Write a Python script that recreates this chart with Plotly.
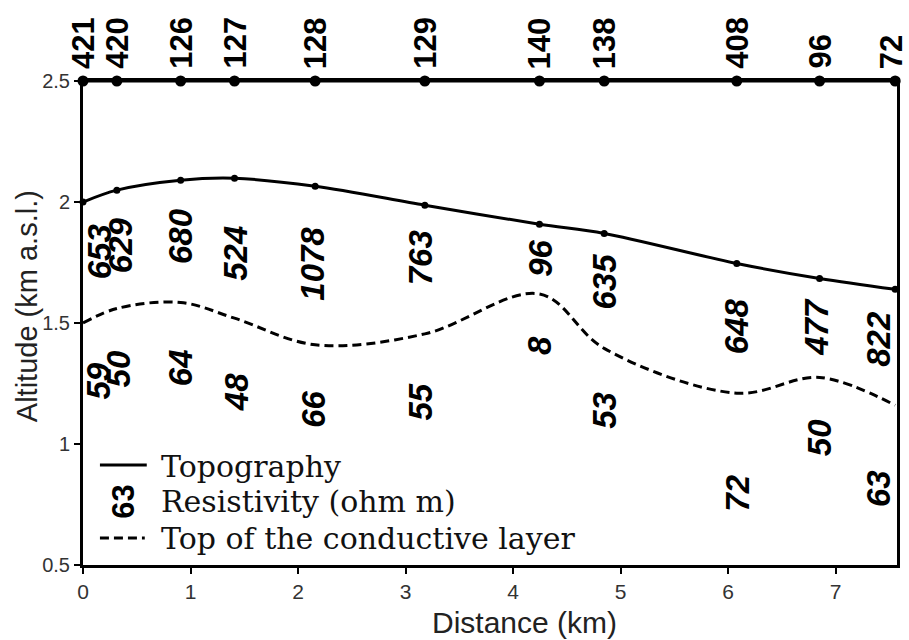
import plotly.graph_objects as go

# Sounding stations along the profile (km) and their identifiers
station_km = [0.0, 0.315, 0.908, 1.409, 2.159, 3.179, 4.245, 4.847, 6.08, 6.85, 7.553]
station_ids = ["421", "420", "126", "127", "128", "129", "140", "138", "408", "96", "72"]
station_line_alt = 2.5

# Topography (km a.s.l.) at each station
topo_alt = [2.0, 2.049, 2.09, 2.098, 2.065, 1.987, 1.908, 1.87, 1.746, 1.684, 1.639]

# Top of the conductive layer (km a.s.l.) at each station
cond_top_alt = [1.50, 1.56, 1.585, 1.52, 1.41, 1.455, 1.62, 1.395, 1.21, 1.275, 1.16]

# Resistivity of the resistive upper layer (ohm m) and label positions
upper_res = ["653", "629", "680", "524", "1078", "763", "96", "635", "648", "477", "822"]
upper_x = [0.148, 0.343, 0.908, 1.418, 2.132, 3.142, 4.254, 4.847, 6.080, 6.821, 7.396]
upper_y = [1.796, 1.821, 1.858, 1.788, 1.746, 1.771, 1.767, 1.672, 1.486, 1.486, 1.436]

# Resistivity of the conductive layer (ohm m) and label positions
lower_res = ["59", "50", "64", "48", "66", "55", "8", "53", "72", "50", "63"]
lower_x = [0.148, 0.334, 0.908, 1.427, 2.141, 3.142, 4.245, 4.847, 6.089, 6.849, 7.405]
lower_y = [1.262, 1.312, 1.316, 1.216, 1.142, 1.175, 1.407, 1.138, 0.798, 1.026, 0.815]

x_ticks = [0, 1, 2, 3, 4, 5, 6, 7]
y_ticks = [0.5, 1, 1.5, 2, 2.5]
y_tick_text = ["0.5", "1", "1.5", "2", "2.5"]

SANS = "Liberation Sans, Arial, sans-serif"
SERIF = "DejaVu Serif, serif"

# Plot-area edges in pixels, used to place the key and axis titles
L, R, T, B = 83, 900, 81, 565


def px_x(p):
    return (p - L) / (R - L)


def px_y(p):
    return (B - p) / (B - T)


fig = go.Figure()

# Station line with station markers
fig.add_trace(go.Scatter(
    x=station_km, y=[station_line_alt] * len(station_km),
    mode="lines+markers",
    line=dict(color="black", width=3),
    marker=dict(color="black", size=11),
    cliponaxis=False, showlegend=False, hoverinfo="skip",
))

# Topography
fig.add_trace(go.Scatter(
    x=station_km, y=topo_alt,
    mode="lines+markers",
    line=dict(color="black", width=3, shape="spline", smoothing=0.9),
    marker=dict(color="black", size=7),
    cliponaxis=False, showlegend=False, hoverinfo="skip",
))

# Top of the conductive layer
fig.add_trace(go.Scatter(
    x=station_km, y=cond_top_alt,
    mode="lines",
    line=dict(color="black", width=3, dash="9px,5px", shape="spline", smoothing=1.0),
    showlegend=False, hoverinfo="skip",
))

annotations = []

# Station identifiers above the station line (the last one is nudged so it
# stays inside the page)
for i, (xs, sid) in enumerate(zip(station_km, station_ids)):
    annotations.append(dict(
        x=xs, y=station_line_alt, xref="x", yref="y",
        text="<b>%s</b>" % sid, textangle=-90, showarrow=False,
        xanchor="center", yanchor="bottom", yshift=10,
        xshift=-4 if i == len(station_km) - 1 else 0,
        font=dict(family=SANS, size=31, color="black"),
    ))

# Resistivity values
for xs, ys, v in list(zip(upper_x, upper_y, upper_res)) + list(zip(lower_x, lower_y, lower_res)):
    annotations.append(dict(
        x=xs, y=ys, xref="x", yref="y",
        text="<b><i>%s</i></b>" % v, textangle=-90, showarrow=False,
        xanchor="center", yanchor="middle",
        font=dict(family=SANS, size=33, color="black"),
    ))

# Key
legend_rows = [("Topography", 466), ("Resistivity (ohm m)", 502), ("Top of the conductive layer", 538)]
for label, py in legend_rows:
    annotations.append(dict(
        x=px_x(159), y=px_y(py), xref="paper", yref="paper",
        text=label, showarrow=False, xanchor="left", yanchor="middle",
        font=dict(family=SERIF, size=30, color="#111"),
    ))
annotations.append(dict(
    x=px_x(124), y=px_y(502), xref="paper", yref="paper",
    text="<b>63</b>", textangle=-90, showarrow=False,
    xanchor="center", yanchor="middle",
    font=dict(family=SANS, size=31, color="black"),
))

# Axis titles
annotations.append(dict(
    x=px_x(526), y=px_y(622), xref="paper", yref="paper",
    text="Distance (km)", showarrow=False, xanchor="center", yanchor="middle",
    font=dict(family=SANS, size=30, color="#222"),
))
annotations.append(dict(
    x=px_x(27), y=px_y(306), xref="paper", yref="paper",
    text="Altitude (km a.s.l.)", textangle=-90, showarrow=False,
    xanchor="center", yanchor="middle",
    font=dict(family=SANS, size=29, color="#222"),
))

shapes = [
    dict(type="line", xref="paper", yref="paper",
         x0=px_x(100), x1=px_x(147), y0=px_y(465), y1=px_y(465),
         line=dict(color="black", width=3)),
    dict(type="line", xref="paper", yref="paper",
         x0=px_x(100), x1=px_x(145), y0=px_y(538), y1=px_y(538),
         line=dict(color="black", width=3, dash="9px,5px")),
]

fig.update_layout(
    width=909, height=640,
    margin=dict(l=L, r=909 - R, t=T, b=640 - B),
    paper_bgcolor="white", plot_bgcolor="white",
    annotations=annotations, shapes=shapes,
    showlegend=False,
    xaxis=dict(
        range=[0, 7.57], tickvals=x_ticks,
        showline=True, linecolor="black", linewidth=3, mirror=True,
        ticks="outside", ticklen=6, tickwidth=2, tickcolor="black",
        showgrid=False, zeroline=False,
        tickfont=dict(family=SANS, size=21, color="#333"),
    ),
    yaxis=dict(
        range=[0.5, 2.5], tickvals=y_ticks, ticktext=y_tick_text,
        showline=True, linecolor="black", linewidth=3, mirror=True,
        ticks="outside", ticklen=6, tickwidth=2, tickcolor="black",
        showgrid=False, zeroline=False,
        tickfont=dict(family=SANS, size=20, color="#333"),
    ),
)

fig.write_html("out.html")
